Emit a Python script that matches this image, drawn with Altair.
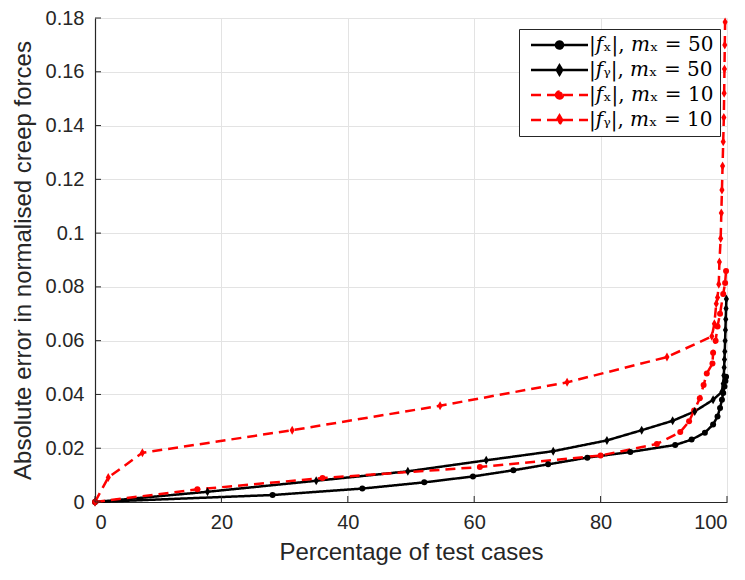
import altair as alt
import pandas as pd

# ---------------- data ----------------
labels = ["|𝑓ₓ|, 𝑚ₓ = 50", "|𝑓ᵧ|, 𝑚ₓ = 50", "|𝑓ₓ|, 𝑚ₓ = 10", "|𝑓ᵧ|, 𝑚ₓ = 10"]

fx50_x = [0, 28.1, 42.3, 52.1, 59.8, 66.2, 71.7, 77.9, 84.7, 91.8, 94.4, 96.5, 97.8, 98.5, 98.9, 99.2, 99.4, 99.6, 99.75, 99.85]
fx50_y = [0, 0.0026, 0.0050, 0.0073, 0.0095, 0.0118, 0.0140, 0.0165, 0.0186, 0.0212, 0.0232, 0.0258, 0.0288, 0.0318, 0.0350, 0.0380, 0.0405, 0.0430, 0.0450, 0.0466]

fy50_x = [0, 17.8, 35.0, 49.5, 61.9, 72.5, 81.0, 86.5, 91.4, 94.9, 97.8, 99.2, 99.4, 99.5, 99.55, 99.6, 99.65, 99.7, 99.75, 99.8, 99.85, 99.9]
fy50_y = [0, 0.0038, 0.0079, 0.0114, 0.0155, 0.0189, 0.0229, 0.0267, 0.0302, 0.0337, 0.0380, 0.0410, 0.0440, 0.0470, 0.0500, 0.0530, 0.0560, 0.0600, 0.0640, 0.0680, 0.0720, 0.0755]

fx10_x = [0, 16.2, 36.0, 60.9, 80.0, 88.9, 92.6, 94.0, 94.8, 95.7, 96.3, 96.8, 97.7, 97.8, 98.2, 98.5, 98.9, 99.4, 99.7, 99.85]
fx10_y = [0, 0.0047, 0.0089, 0.0130, 0.0173, 0.0216, 0.0260, 0.0300, 0.0340, 0.0386, 0.0435, 0.0478, 0.0515, 0.0555, 0.0600, 0.0653, 0.0700, 0.0774, 0.0814, 0.0859]

fy10_x = [0, 2.1, 7.5, 31.2, 54.6, 74.7, 90.5, 97.6, 98.0, 98.3, 98.5, 98.7, 98.8, 99.0, 99.1, 99.2, 99.3, 99.4, 99.5, 99.55, 99.6, 99.65, 99.7]
fy10_y = [0, 0.0091, 0.0183, 0.0267, 0.0358, 0.0445, 0.0539, 0.0616, 0.0663, 0.0737, 0.0761, 0.0810, 0.0893, 0.0980, 0.1075, 0.1160, 0.1250, 0.1340, 0.1430, 0.1520, 0.1610, 0.1700, 0.1785]

x_ticks = [0, 20, 40, 60, 80, 100]
y_ticks = [0, 0.02, 0.04, 0.06, 0.08, 0.10, 0.12, 0.14, 0.16, 0.18]

# ---------------- build table ----------------
rows = []
for lab, xs, ys in zip(labels, [fx50_x, fy50_x, fx10_x, fy10_x], [fx50_y, fy50_y, fx10_y, fy10_y]):
    for i, (a, b) in enumerate(zip(xs, ys)):
        rows.append({"series": lab, "idx": i, "pct": a, "err": b})
df = pd.DataFrame(rows)
xt = pd.DataFrame({"v": x_ticks})
yt = pd.DataFrame({"v": y_ticks})

W, H = 632, 484
AX = "#262626"

colors = ["#000000", "#000000", "#ff0000", "#ff0000"]
dashes = [[1, 0], [1, 0], [10, 6], [10, 6]]
diamond = "M0,-1.5L0.85,0L0,1.5L-0.85,0Z"

# legend symbols: a line with the marker in its middle (units of sqrt(size)/2 = 4px)
leg_circle = "M-1,0L13.25,0M5.25,0A0.875,0.875 0 1,0 7,0A0.875,0.875 0 1,0 5.25,0Z"
leg_diamond = "M-1,0L13.25,0M6.125,-1.15L6.8,0L6.125,1.15L5.45,0Z"

xenc = alt.X("pct:Q", scale=alt.Scale(domain=[0, 100], nice=False, zero=False),
             axis=alt.Axis(values=x_ticks, title="Percentage of test cases", labelPadding=10,
                           titlePadding=8))
yenc = alt.Y("err:Q", scale=alt.Scale(domain=[0, 0.18], nice=False),
             axis=alt.Axis(values=y_ticks, format=".2~f", title="Absolute error in normalised creep forces",
                           labelPadding=11, titlePadding=10, labelFlush=False))

cscale = alt.Scale(domain=labels, range=colors)
dscale = alt.Scale(domain=labels, range=dashes)


def make_legend():
    return alt.Legend(
        title=None,
        orient="none", legendX=424, legendY=11,
        symbolType=alt.ExprRef(expr=f"datum.index % 2 == 0 ? '{leg_circle}' : '{leg_diamond}'"),
        symbolStrokeColor=alt.ExprRef(expr="datum.index < 2 ? '#000000' : '#ff0000'"),
        symbolFillColor=alt.ExprRef(expr="datum.index < 2 ? '#000000' : '#ff0000'"),
        symbolDash=alt.ExprRef(expr="datum.index < 2 ? [1, 0] : [10, 6]"),
        symbolStrokeWidth=2.5,
        symbolSize=64,
        symbolOpacity=1,
    )


lines = alt.Chart(df).mark_line(strokeWidth=2.5).encode(
    x=xenc, y=yenc,
    color=alt.Color("series:N", scale=cscale, legend=make_legend()),
    strokeDash=alt.StrokeDash("series:N", scale=dscale, legend=make_legend()),
    order="idx:Q",
    detail="series:N",
)

circ_pts = alt.Chart(df).transform_filter(
    alt.FieldOneOfPredicate(field="series", oneOf=[labels[0], labels[2]])
).mark_point(filled=True, opacity=1, size=36, shape="circle").encode(
    x="pct:Q", y="err:Q",
    color=alt.Color("series:N", scale=cscale),
)

diam_pts = alt.Chart(df).transform_filter(
    alt.FieldOneOfPredicate(field="series", oneOf=[labels[1], labels[3]])
).mark_point(filled=True, opacity=1, size=36, shape=diamond).encode(
    x="pct:Q", y="err:Q",
    color=alt.Color("series:N", scale=cscale),
)

ytick_marks = alt.Chart(yt).mark_rule(color=AX, strokeWidth=1).encode(
    y="v:Q", x=alt.value(0), x2=alt.value(6))
xtick_marks = alt.Chart(xt).mark_rule(color=AX, strokeWidth=1).encode(
    x="v:Q", y=alt.value(H), y2=alt.value(H - 6))

chart = alt.layer(lines, circ_pts, diam_pts, ytick_marks, xtick_marks).properties(
    width=W, height=H,
    padding={"left": 3, "top": 0, "right": 5, "bottom": 5},
).configure_view(strokeWidth=0).configure_axis(
    gridColor="#e3e3e3", gridWidth=1, domainColor=AX, domainWidth=1.2, tickSize=0,
    labelColor=AX, labelFont="Liberation Sans", labelFontSize=20,
    titleColor=AX, titleFont="Liberation Sans", titleFontSize=24, titleFontWeight="normal",
).configure_legend(
    fillColor="white", strokeColor=AX, padding=6, cornerRadius=0,
    labelFont="DejaVu Serif", labelFontSize=20, labelColor="#000000",
    labelOffset=44, rowPadding=5, labelLimit=300,
)

chart.save("out.html", embed_options={"renderer": "svg", "actions": False})
